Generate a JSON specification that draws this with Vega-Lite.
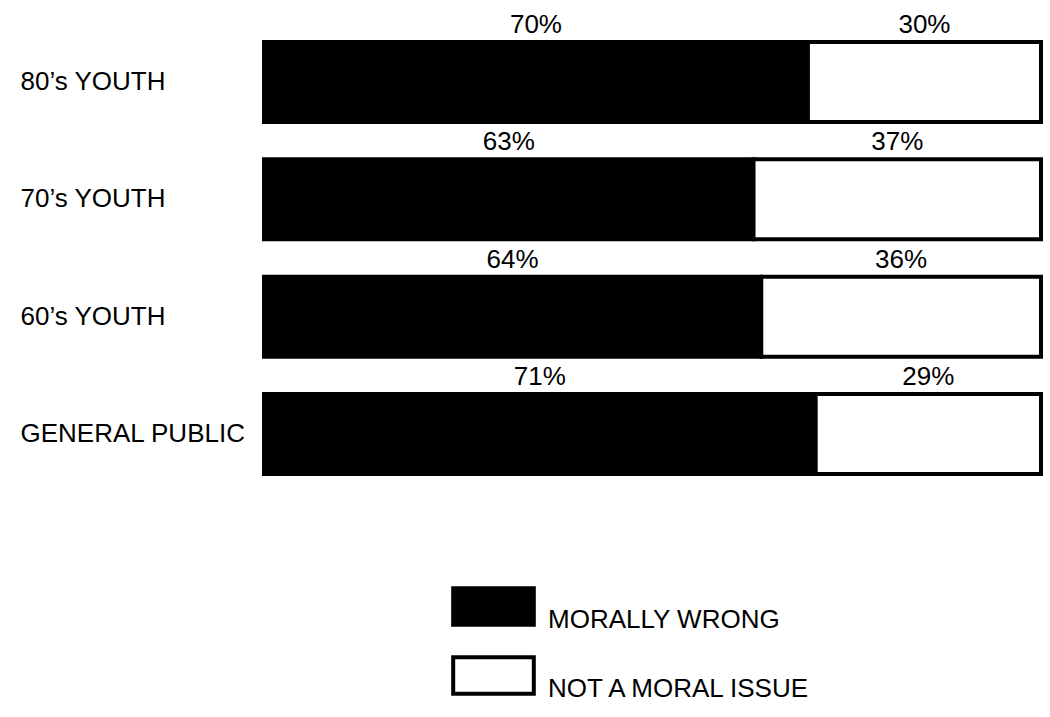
{
  "$schema": "https://vega.github.io/schema/vega-lite/v6.json",
  "width": 777,
  "height": 432,
  "autosize": {"type": "none"},
  "padding": {"left": 264, "top": 42, "right": 9, "bottom": 243},
  "background": "white",
  "config": {
    "view": {"stroke": null},
    "font": "Liberation Sans",
    "text": {"font": "Liberation Sans"}
  },
  "data": {
    "values": [
      {"group": "80’s YOUTH", "category": "MORALLY WRONG", "value": 0.70},
      {"group": "80’s YOUTH", "category": "NOT A MORAL ISSUE", "value": 0.30},
      {"group": "70’s YOUTH", "category": "MORALLY WRONG", "value": 0.63},
      {"group": "70’s YOUTH", "category": "NOT A MORAL ISSUE", "value": 0.37},
      {"group": "60’s YOUTH", "category": "MORALLY WRONG", "value": 0.64},
      {"group": "60’s YOUTH", "category": "NOT A MORAL ISSUE", "value": 0.36},
      {"group": "GENERAL PUBLIC", "category": "MORALLY WRONG", "value": 0.71},
      {"group": "GENERAL PUBLIC", "category": "NOT A MORAL ISSUE", "value": 0.29}
    ]
  },
  "transform": [
    {
      "stack": "value",
      "groupby": ["group"],
      "sort": [{"field": "category", "order": "ascending"}],
      "as": ["v0", "v1"]
    },
    {"calculate": "(datum.v0 + datum.v1) / 2", "as": "mid"}
  ],
  "encoding": {
    "y": {
      "field": "group",
      "type": "nominal",
      "sort": ["80’s YOUTH", "70’s YOUTH", "60’s YOUTH", "GENERAL PUBLIC"],
      "scale": {"paddingInner": 0.318, "paddingOuter": 0},
      "axis": {
        "title": null,
        "ticks": false,
        "domain": false,
        "labelAlign": "left",
        "labelPadding": 244,
        "labelFontSize": 26,
        "labelColor": "black",
        "labelFont": "Liberation Sans",
        "labelLimit": 400
      }
    }
  },
  "layer": [
    {
      "mark": {"type": "bar", "stroke": "black", "strokeWidth": 4},
      "encoding": {
        "x": {
          "field": "v0",
          "type": "quantitative",
          "scale": {"domain": [0, 1], "nice": false},
          "axis": null
        },
        "x2": {"field": "v1"},
        "fill": {
          "field": "category",
          "type": "nominal",
          "scale": {
            "domain": ["MORALLY WRONG", "NOT A MORAL ISSUE"],
            "range": ["black", "white"]
          },
          "legend": {
            "title": null,
            "orient": "none",
            "legendX": 187,
            "legendY": 522,
            "padding": 0,
            "symbolType": "M-1,-0.45L1,-0.45L1,0.45L-1,0.45Z",
            "symbolSize": 6500,
            "symbolStrokeColor": "black",
            "symbolStrokeWidth": 4,
            "rowPadding": -8,
            "labelOffset": 12,
            "labelFontSize": 26,
            "labelColor": "black",
            "labelFont": "Liberation Sans",
            "labelBaseline": "top",
            "labelLimit": 400
          }
        }
      }
    },
    {
      "mark": {
        "type": "text",
        "baseline": "alphabetic",
        "align": "center",
        "dy": -9,
        "fontSize": 26,
        "color": "black"
      },
      "encoding": {
        "x": {"field": "mid", "type": "quantitative"},
        "y": {"field": "group", "type": "nominal", "sort": ["80’s YOUTH", "70’s YOUTH", "60’s YOUTH", "GENERAL PUBLIC"], "bandPosition": 0},
        "text": {"field": "value", "type": "quantitative", "format": ".0%"}
      }
    }
  ]
}
